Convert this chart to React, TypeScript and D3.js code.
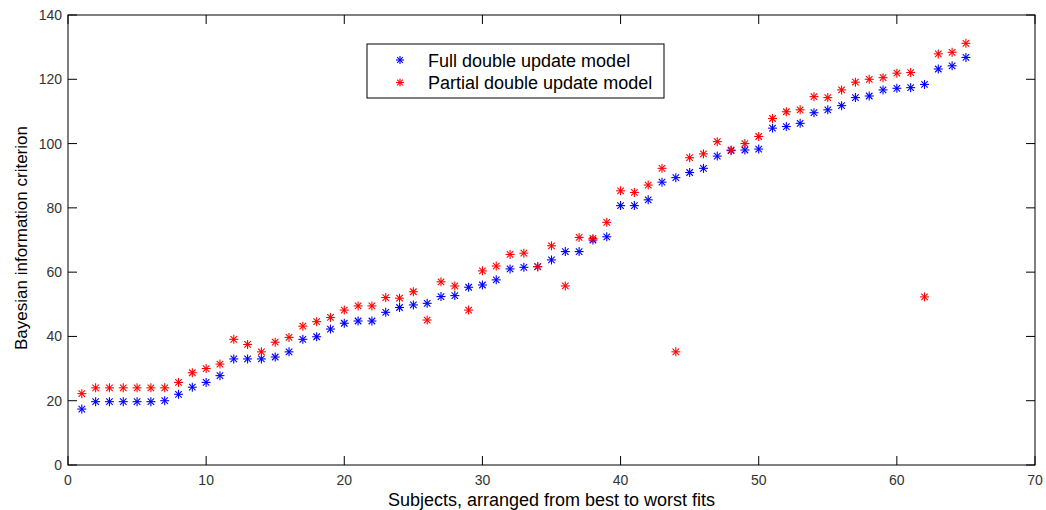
import React from 'react';
import * as d3 from 'd3';

const fullModel = [
  17.4, 19.7, 19.7, 19.7, 19.7, 19.7, 20, 22, 24.2, 25.7,
  27.8, 33, 33, 33, 33.6, 35.2, 39.1, 39.9, 42.3, 44.1,
  44.8, 44.8, 47.5, 49, 49.8, 50.3, 52.4, 52.7, 55.3, 56,
  57.6, 61, 61.5, 61.7, 63.8, 66.4, 66.4, 70, 71, 80.7,
  80.7, 82.5, 88, 89.4, 91, 92.3, 96.1, 97.8, 98, 98.3,
  104.8, 105.3, 106.3, 109.6, 110.5, 111.8, 114.3, 114.8, 116.7, 117.2,
  117.4, 118.4, 123.2, 124.2, 126.8,
];

const partialModel = [
  22.2, 24, 24, 24, 24, 24, 24, 25.7, 28.7, 30,
  31.4, 39.1, 37.5, 35.2, 38.2, 39.7, 43.2, 44.6, 45.9, 48.2,
  49.5, 49.5, 52.1, 51.9, 53.9, 45.1, 57, 55.7, 48.2, 60.4,
  61.9, 65.5, 65.9, 61.7, 68.2, 55.7, 70.8, 70.5, 75.5, 85.3,
  84.8, 87.1, 92.3, 35.2, 95.6, 96.8, 100.6, 98, 100, 102.2,
  107.8, 109.9, 110.5, 114.6, 114.3, 116.7, 119.1, 120, 120.5, 121.9,
  122.1, 52.3, 127.9, 128.4, 131.2,
];

const xTicks = [0, 10, 20, 30, 40, 50, 60, 70];
const yTicks = [0, 20, 40, 60, 80, 100, 120, 140];
const seriesNames = ['Full double update model', 'Partial double update model'];
const seriesColors = ['#0000ff', '#ff0000'];

const W = 1046;
const H = 510;
const left = 68;
const right = 1035;
const top = 15;
const bottom = 465;
const font = 'Arial, "Liberation Sans", sans-serif';

const Star = ({ cx, cy, color, r = 4.5 }: { cx: number; cy: number; color: string; r?: number }) => {
  const d = r * 0.72;
  return (
    <g stroke={color} strokeWidth={1.1}>
      <line x1={cx - r} y1={cy} x2={cx + r} y2={cy} />
      <line x1={cx} y1={cy - r} x2={cx} y2={cy + r} />
      <line x1={cx - d} y1={cy - d} x2={cx + d} y2={cy + d} />
      <line x1={cx - d} y1={cy + d} x2={cx + d} y2={cy - d} />
    </g>
  );
};

export default function App() {
  const x = d3.scaleLinear().domain([0, 70]).range([left, right]);
  const y = d3.scaleLinear().domain([0, 140]).range([bottom, top]);
  const tickLen = 9;
  const series = [fullModel, partialModel];

  return (
    <svg width={W} height={H} style={{ position: 'absolute', left: 0, top: 0, background: '#fff' }}>
      <rect x={0} y={0} width={W} height={H} fill="#fff" />

      {/* ticks */}
      <g stroke="#000" strokeWidth={1}>
        {xTicks.map(t => (
          <g key={'xt' + t}>
            <line x1={x(t)} x2={x(t)} y1={bottom} y2={bottom - tickLen} />
            <line x1={x(t)} x2={x(t)} y1={top} y2={top + tickLen} />
          </g>
        ))}
        {yTicks.map(t => (
          <g key={'yt' + t}>
            <line x1={left} x2={left + tickLen} y1={y(t)} y2={y(t)} />
            <line x1={right} x2={right - tickLen} y1={y(t)} y2={y(t)} />
          </g>
        ))}
      </g>
      <rect x={left} y={top} width={right - left} height={bottom - top} fill="none" stroke="#000" strokeWidth={1} />

      {/* tick labels */}
      <g fontFamily={font} fontSize={14} fill="#333">
        {xTicks.map(t => (
          <text key={'xl' + t} x={x(t)} y={bottom + 20} textAnchor="middle">{t}</text>
        ))}
        {yTicks.map(t => (
          <text key={'yl' + t} x={left - 6} y={y(t) + 5} textAnchor="end">{t}</text>
        ))}
      </g>

      {/* axis labels */}
      <text x={(left + right) / 2} y={505.5} textAnchor="middle" fontFamily={font} fontSize={18} fill="#000">
        Subjects, arranged from best to worst fits
      </text>
      <text transform={`translate(27, ${(top + bottom) / 2 - 2}) rotate(-90)`} textAnchor="middle" fontFamily={font} fontSize={17} fill="#000">
        Bayesian information criterion
      </text>

      {/* data */}
      {series.map((s, si) => (
        <g key={'s' + si}>
          {s.map((v, i) => (
            <Star key={i} cx={x(i + 1)} cy={y(v)} color={seriesColors[si]} />
          ))}
        </g>
      ))}

      {/* legend */}
      <rect x={367} y={44} width={297} height={54} fill="#fff" stroke="#000" strokeWidth={1} />
      {seriesNames.map((n, i) => (
        <g key={'lg' + i}>
          <Star cx={400} cy={60 + i * 22.5} color={seriesColors[i]} r={4} />
          <text x={428} y={66.5 + i * 22.5} fontFamily={font} fontSize={18} fill="#000">{n}</text>
        </g>
      ))}
    </svg>
  );
}
